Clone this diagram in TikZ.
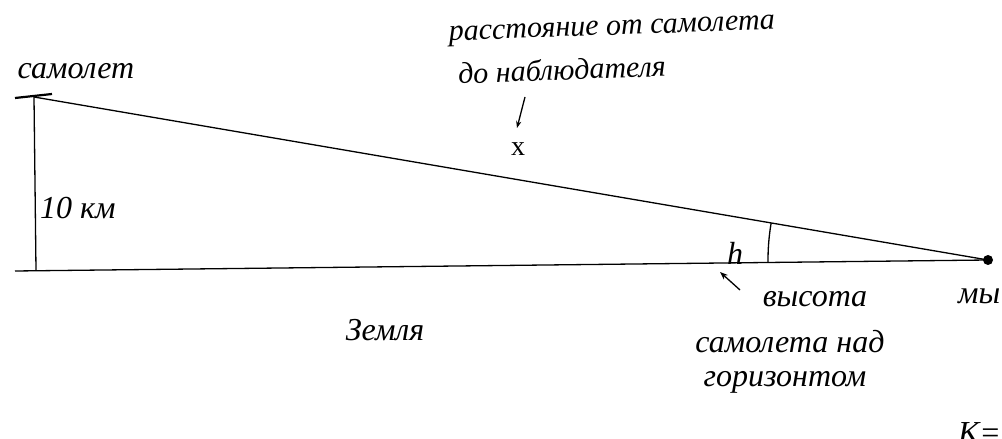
\documentclass[tikz,border=0pt]{standalone}
\usepackage{fontspec}
\setmainfont{Liberation Serif}
\usetikzlibrary{arrows.meta}
\begin{document}
\begin{tikzpicture}[x=1pt,y=1pt,
  line/.style={line width=1.3pt,black},
  hand/.style={font=\fontsize{32}{34}\selectfont\itshape,inner sep=0pt}]
\useasboundingbox (0,0) rectangle (1002,439);
\clip (0,0) rectangle (1002,439);
% points
\coordinate (plane) at (34,342);
\coordinate (foot) at (36,169);
\coordinate (obs) at (988,179);
\coordinate (tickL) at (15,341);
\coordinate (tickR) at (52,345);
\coordinate (baseL) at (15,168);
% lines
\draw[line width=2.2pt] (tickL) -- (tickR);
\draw[line] (plane) -- (foot);
\draw[line] (baseL) -- (obs);
\draw[line] (plane) -- (obs);
\fill (obs) circle (5);
\draw[line] (obs) ++(170.3:220) arc[start angle=170.3,end angle=180.6,radius=220];
% labels
\node[hand] (lplane) at (76,368) {самолет};
\node[hand,anchor=west] (lheight) at (40,231) {10 км};
\node[hand,rotate=2,font=\fontsize{30}{30}\selectfont\itshape] (ldistA) at (612,408) {расстояние от самолета};
\node[hand,rotate=2,anchor=west,font=\fontsize{30}{30}\selectfont\itshape] (ldistB) at (458,366) {до наблюдателя};
\coordinate (darrS) at (525,342);
\coordinate (darrE) at (517,311);
\draw[line,-{Stealth[length=7pt]}] (darrS) -- (darrE);
\node[font=\fontsize{28}{28}\selectfont,inner sep=0pt] (lx) at (518,290) {x};
\node[hand] (lh) at (735,186) {h};
\node[hand] (lvys) at (815,140) {высота};
\coordinate (harrS) at (740,149);
\coordinate (harrE) at (720,167);
\draw[line,-{Stealth[length=8pt]}] (harrS) -- (harrE);
\node[hand] (lsam) at (790,97) {самолета над};
\node[hand] (lgor) at (785,57) {горизонтом};
\node[hand] (lzem) at (385,109) {Земля};
\node[hand,anchor=west] (lmy) at (958,143) {мы};
\node[hand,anchor=west] (lk) at (958,6) {К=};
\end{tikzpicture}
\end{document}
